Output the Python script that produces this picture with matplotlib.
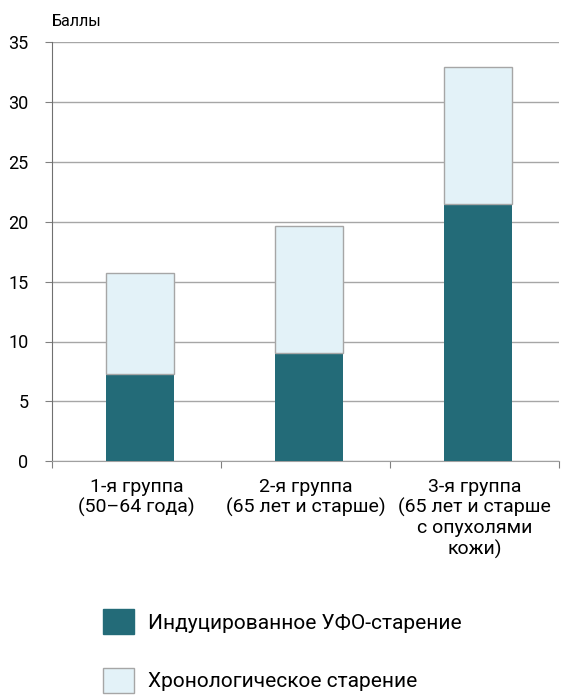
import numpy as np
import matplotlib.pyplot as plt
from matplotlib.patches import Patch

plt.rcParams['font.family'] = ['Roboto', 'DejaVu Sans']

groups = ['1-я группа\n(50–64 года)', '2-я группа\n(65 лет и старше)',
          '3-я группа\n(65 лет и старше\nс опухолями\nкожи)']
uv_aging = [7.25, 9.0, 21.45]
total = [15.75, 19.65, 32.9]
chrono_aging = [t - u for t, u in zip(total, uv_aging)]
labels = ['Индуцированное УФО-старение', 'Хронологическое старение']

dark = '#236b78'
light = '#e3f2f8'
grid_c = '#a6a6a6'

fig = plt.figure(figsize=(5.65, 7), dpi=100)
ax = fig.add_axes([0.092, 0.341, 0.898, 0.599])

x = np.arange(len(groups))
ax.bar(x + 0.02, uv_aging, width=0.4, color=dark, zorder=3)
ax.bar(x + 0.02, chrono_aging, width=0.4, bottom=uv_aging, color=light,
       edgecolor=grid_c, linewidth=1, zorder=3)

ax.set_xlim(-0.5, 2.5)
ax.set_ylim(0, 35)
ax.set_yticks(np.arange(0, 36, 5))
ax.yaxis.grid(True, color=grid_c, linewidth=1, zorder=0)
ax.set_xticks([-0.5, 0.5, 1.5, 2.5], minor=False)
ax.set_xticklabels([])
ax.set_xticks(x, minor=True)
ax.set_xticklabels(groups, minor=True, fontsize=14, linespacing=1.15)
ax.tick_params(axis='x', which='minor', length=0, pad=12)
ax.tick_params(axis='x', which='major', length=5, color='#808080')
ax.tick_params(axis='y', length=5, color='#808080', labelsize=13, pad=12)

for s in ['top', 'right']:
    ax.spines[s].set_visible(False)
ax.spines['left'].set_color('#707070')
ax.spines['bottom'].set_color('#a0a0a0')

ax.text(0.0, 1.03, 'Баллы', transform=ax.transAxes, fontsize=11.5,
        ha='left', va='bottom')

handles = [Patch(facecolor=dark, edgecolor=dark),
           Patch(facecolor=light, edgecolor=grid_c)]
fig.legend(handles, labels, loc='upper left',
           bbox_to_anchor=(103 / 565, 1 - 609 / 700),
           bbox_transform=fig.transFigure, frameon=False, fontsize=15,
           handlelength=1.5, handleheight=1.5, labelspacing=1.6,
           handletextpad=0.65, borderaxespad=0, borderpad=0)

fig.savefig('out.png', dpi=100)
